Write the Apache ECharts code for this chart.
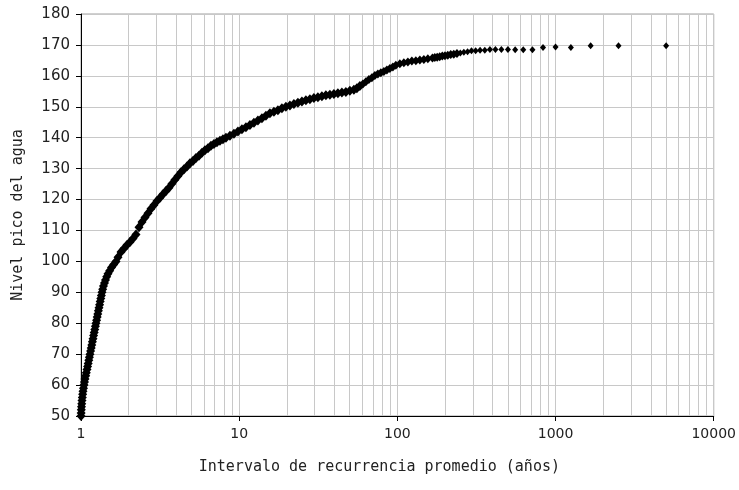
<!DOCTYPE html>
<html><head><meta charset="utf-8">
<script src="https://cdn.jsdelivr.net/npm/echarts@6/dist/echarts.min.js"></script>
<style>html,body{margin:0;padding:0;background:#fff}#c{width:739px;height:490px}</style>
</head><body><div id="c"></div>
<script>
// Mean recurrence interval (years)
const recurrence = [
  1.000,1.0022,1.0044,1.0073,1.0110,1.0147,1.0191,1.0243,1.0295,1.0370,
  1.0446,1.0522,1.0599,1.0708,1.0802,1.0912,1.1008,1.1104,1.1202,1.1300,
  1.1399,1.1499,1.1600,1.1702,1.1804,1.1908,1.2012,1.2117,1.2224,1.2331,
  1.2439,1.2548,1.2658,1.2769,1.2881,1.2994,1.3108,1.3223,1.3339,1.3456,
  1.3574,1.3713,1.3873,1.4076,1.4283,1.4534,1.4812,1.5183,1.5586,1.6093,1.6641,
  1.7132,1.7896,1.8694,1.9529,2.0400,2.1310,2.2262,2.3254,2.4292,2.5376,
  2.6508,2.7691,2.8926,3.0217,3.1565,3.2973,3.4445,3.5982,3.7587,3.9264,
  4.1016,4.2846,4.4757,4.6755,4.8841,5.1020,5.3296,5.5674,5.8158,6.0753,
  6.3464,6.6296,6.9254,7.2343,7.5571,7.8943,8.2465,8.7407,9.2645,9.8197,
  10.408,11.032,11.693,12.394,13.136,13.924,14.758,15.642,16.580,17.573,
  18.626,19.742,20.925,22.179,23.508,24.917,26.410,27.993,29.670,31.448,
  33.333,35.330,37.447,39.691,42.070,44.591,47.263,50.095,53.097,55.466,
  57.941,60.526,63.226,66.047,68.993,72.071,75.287,78.646,82.155,85.820,
  89.649,93.649,97.827,103.69,109.91,116.49,123.47,130.87,138.72,147.03,155.84,
  166.67,172.41,178.57,185.19,192.31,200,208.33,217.39,227.27,238.10,
  250,263.16,277.78,294.12,312.5,333.33,357.14,384.62,416.67,454.55,
  500,555.56,625,714.29,833.33,1000,1250,1666.7,2500,5000
];
// Peak water level
const level = [
  50,51,52,53,54,55,56,57,58,59,
  60,61,62,63,64,65,66,67,68,69,
  70,71,72,73,74,75,76,77,78,79,
  80,81,82,83,84,85,86,87,88,89,
  90,91,92,93,94,95,96,97,98,99,100,
  101.3,103.0,104.2,105.3,106.3,107.4,108.7,111.0,112.7,114.2,
  115.6,117.0,118.2,119.5,120.6,121.7,122.8,123.8,125.1,126.4,
  127.6,128.8,129.8,130.7,131.7,132.5,133.4,134.2,135.1,135.9,
  136.6,137.4,138.0,138.5,139.0,139.5,140.0,140.6,141.3,142.0,
  142.7,143.4,144.1,144.8,145.6,146.3,147.1,147.9,148.4,148.9,
  149.5,150.0,150.4,150.9,151.3,151.7,152.1,152.4,152.8,153.1,
  153.4,153.7,153.9,154.1,154.4,154.6,154.8,155.2,155.5,156.0,
  156.7,157.4,158.1,158.8,159.4,160.1,160.6,161.0,161.4,161.9,
  162.4,162.9,163.4,163.9,164.2,164.5,164.8,164.9,165.1,165.3,165.5,
  165.8,165.9,166.0,166.2,166.4,166.5,166.7,166.9,167.0,167.2,
  167.4,167.6,167.8,168.1,168.1,168.3,168.3,168.5,168.5,168.5,
  168.5,168.4,168.4,168.4,169.2,169.3,169.2,169.7,169.7,169.7
];
const xMin = 1, xMax = 10000;
const yMin = 50, yMax = 180, yStep = 10;
const minorGrid = [2,3,4,5,6,7,8,9,20,30,40,50,60,70,80,90,
  200,300,400,500,600,700,800,900,2000,3000,4000,5000,6000,7000,8000,9000];
const xTitle = 'Intervalo de recurrencia promedio (años)';
const yTitle = 'Nivel pico del agua';

const points = recurrence.map((x, i) => [x, level[i]]);
const gridColor = '#c8c8c8';
const chart = echarts.init(document.getElementById('c'), null, {renderer: 'canvas'});
chart.setOption({
  animation: false,
  backgroundColor: '#fff',
  grid: {left: 81, right: 25, top: 14, bottom: 74, show: true, borderColor: '#a0a0a0', borderWidth: 1, backgroundColor: 'transparent'},
  xAxis: {
    type: 'log', logBase: 10, min: xMin, max: xMax,
    name: xTitle, nameLocation: 'middle', nameGap: 44,
    nameTextStyle: {fontFamily: 'DejaVu Sans Mono', fontSize: 15, color: '#222', padding: [0, 36, 0, 0]},
    axisLine: {show: true, lineStyle: {color: '#000', width: 1}},
    axisTick: {show: true, inside: false, length: 5, lineStyle: {color: '#000'}},
    axisLabel: {margin: 11, fontFamily: 'DejaVu Sans', fontSize: 14, color: '#222',
      formatter: v => String(Math.round(v))},
    splitLine: {show: true, lineStyle: {color: gridColor, width: 1}},
    minorTick: {show: false}, minorSplitLine: {show: false}
  },
  yAxis: {
    type: 'value', min: yMin, max: yMax, interval: yStep,
    name: yTitle, nameLocation: 'middle', nameGap: 55, nameRotate: 90,
    nameTextStyle: {fontFamily: 'DejaVu Sans Mono', fontSize: 15, color: '#222'},
    axisLine: {show: true, lineStyle: {color: '#000', width: 1}},
    axisTick: {show: true, inside: false, length: 5, lineStyle: {color: '#000'}},
    axisLabel: {margin: 11, fontFamily: 'DejaVu Sans', fontSize: 15, color: '#222'},
    splitLine: {show: true, lineStyle: {color: gridColor, width: 1}}
  },
  series: [{
    type: 'scatter',
    data: points,
    symbol: 'diamond',
    symbolSize: v => v[0] < 60 ? [9, 10] : (v[0] < 250 ? [8, 9] : [6, 7]),
    itemStyle: {color: '#000', opacity: 1},
    z: 3,
    silent: true,
    markLine: {
      silent: true, z: 1, symbol: ['none', 'none'], animation: false,
      label: {show: false},
      lineStyle: {color: gridColor, width: 1, type: 'solid'},
      emphasis: {disabled: true},
      data: minorGrid.map(v => ({xAxis: v}))
    }
  }]
});
</script>
</body></html>
